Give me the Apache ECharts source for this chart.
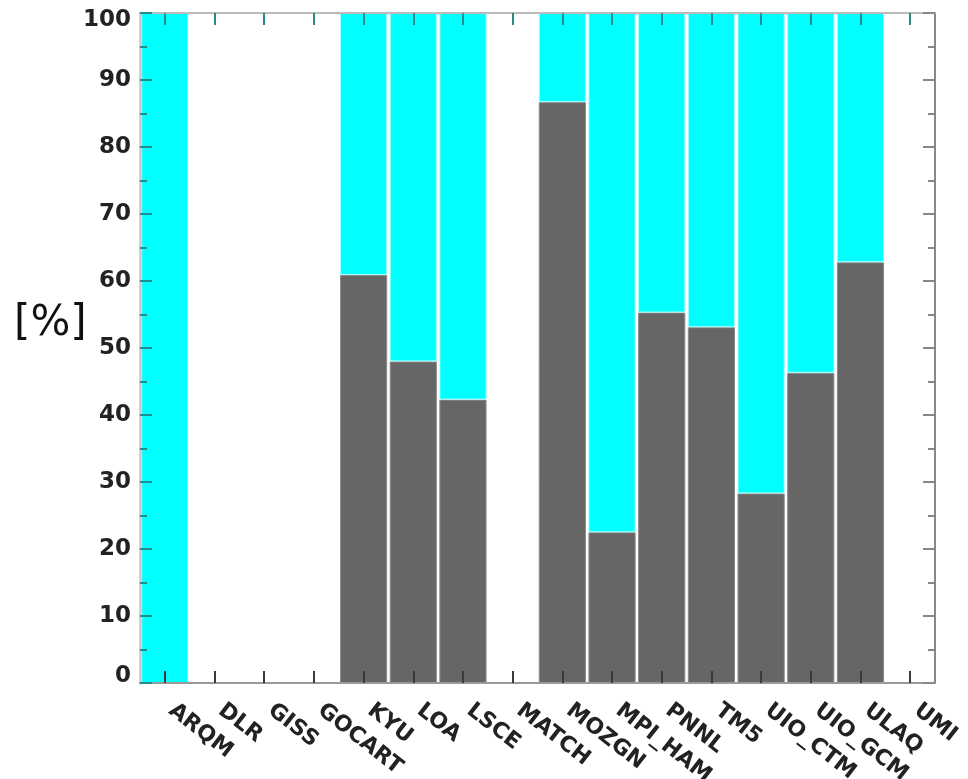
<!DOCTYPE html>
<html>
<head>
<meta charset="utf-8">
<script src="https://cdn.jsdelivr.net/npm/echarts@6/dist/echarts.min.js"></script>
<style>
  html, body { margin: 0; padding: 0; background: #fff; }
  #chart { width: 968px; height: 779px; }
</style>
</head>
<body>
<div id="chart"></div>
<script>
// models along the x axis
var models = ['ARQM', 'DLR', 'GISS', 'GOCART', 'KYU', 'LOA', 'LSCE', 'MATCH',
  'MOZGN', 'MPI_HAM', 'PNNL', 'TM5', 'UIO_CTM', 'UIO_GCM', 'ULAQ', 'UMI'];
// dark (lower) share in %, '-' = no bar
var darkPart = [0, '-', '-', '-', 60.9, 48.0, 42.3, '-',
  86.7, 22.5, 55.3, 53.1, 28.3, 46.3, 62.8, '-'];
// cyan (upper) share in %
var cyanPart = [100, '-', '-', '-', 39.1, 52.0, 57.7, '-',
  13.3, 77.5, 44.7, 46.9, 71.7, 53.7, 37.2, '-'];
var yTicks = [0, 10, 20, 30, 40, 50, 60, 70, 80, 90, 100];

var chart = echarts.init(document.getElementById('chart'));

var labelFont = 'DejaVu Sans, Verdana, sans-serif';

chart.setOption({
  animation: false,
  grid: { left: 140, right: 33, top: 13, bottom: 96, outerBoundsMode: 'none' },
  xAxis: [
    {
      type: 'category',
      data: models,
      z: 5,
      axisLine: { lineStyle: { color: '#9a9a9a', width: 2 } },
      axisTick: { show: true, interval: 0, alignWithLabel: true, inside: true, length: 12, lineStyle: { color: '#3a3a3a', width: 2 } },
      axisLabel: {
        interval: 0,
        rotate: -38,
        margin: 20,
        padding: [0, 0, 0, 8],
        color: '#222',
        fontSize: 22,
        fontWeight: 'bold',
        fontFamily: labelFont
      }
    },
    {
      // top frame edge with ticks
      type: 'category',
      data: models,
      position: 'top',
      z: 5,
      axisLine: { show: true, onZero: false, lineStyle: { color: '#bbb', width: 2 } },
      axisTick: { show: true, interval: 0, alignWithLabel: true, inside: true, length: 12, lineStyle: { color: '#2a8a8a', width: 2 } },
      axisLabel: { show: false }
    }
  ],
  yAxis: [
    {
      type: 'value',
      min: 0,
      max: 100,
      interval: 10,
      z: 5,
      axisLine: { show: true, lineStyle: { color: '#dcc8c8', width: 3 } },
      axisTick: { show: true, inside: true, length: 12, lineStyle: { color: '#2a8a8a', width: 2 } },
      minorTick: { show: true, splitNumber: 2, length: 7, lineStyle: { color: '#2a8a8a', width: 2 } },
      splitLine: { show: false },
      axisLabel: {
        margin: 9,
        color: '#222',
        fontSize: 23,
        fontWeight: 'bold',
        fontFamily: labelFont,
        formatter: function (v) {
          if (v === 100) return '{top|' + v + '}';
          if (v === 0) return '{bot|' + v + '}';
          return yTicks.indexOf(v) >= 0 ? String(v) : '';
        },
        rich: {
          top: { fontSize: 23, fontWeight: 'bold', fontFamily: labelFont, color: '#222', padding: [14, 0, 0, 0] },
          bot: { fontSize: 23, fontWeight: 'bold', fontFamily: labelFont, color: '#222', padding: [0, 0, 14, 0] }
        }
      }
    },
    {
      type: 'value',
      min: 0,
      max: 100,
      interval: 10,
      position: 'right',
      z: 5,
      axisLine: { show: true, onZero: false, lineStyle: { color: '#888', width: 2 } },
      axisTick: { show: true, inside: true, length: 12, lineStyle: { color: '#888', width: 2 } },
      minorTick: { show: true, splitNumber: 2, length: 7, lineStyle: { color: '#888', width: 2 } },
      splitLine: { show: false },
      axisLabel: { show: false }
    }
  ],
  graphic: [
    {
      type: 'text',
      left: 14,
      top: 303,
      style: {
        text: '[%]',
        fontSize: 42,
        fontFamily: 'DejaVu Sans, sans-serif',
        fill: '#111'
      }
    }
  ],
  series: [
    {
      name: 'dark',
      type: 'bar',
      stack: 'share',
      data: darkPart,
      barCategoryGap: '5%',
      itemStyle: { color: '#666666', borderColor: '#8c8c8c', borderWidth: 1 }
    },
    {
      name: 'cyan',
      type: 'bar',
      stack: 'share',
      data: cyanPart,
      barCategoryGap: '5%',
      itemStyle: { color: '#00ffff', borderColor: '#a8ffff', borderWidth: 1 }
    }
  ]
});
</script>
</body>
</html>
